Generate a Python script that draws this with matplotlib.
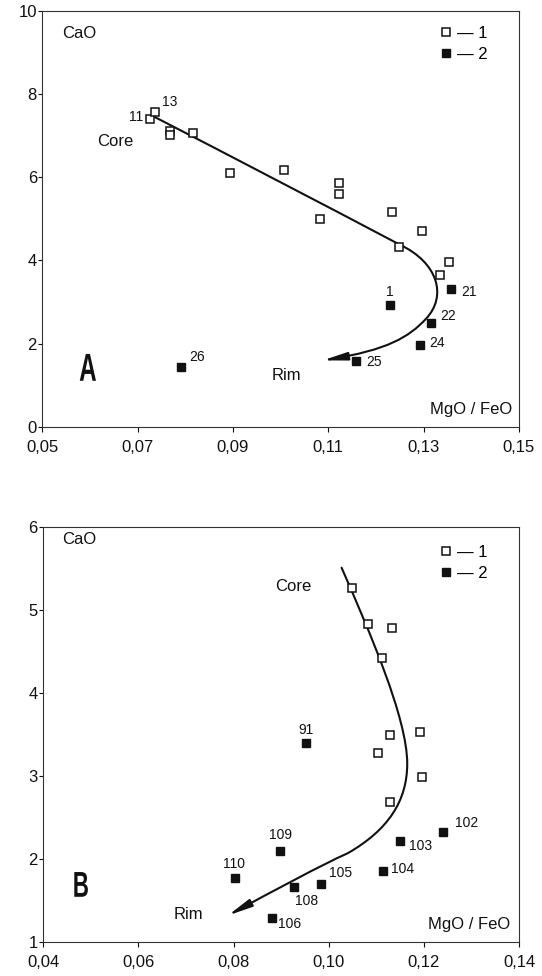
import matplotlib
matplotlib.use("Agg")
import matplotlib.pyplot as plt
import matplotlib.transforms as mtransforms
from matplotlib.lines import Line2D
from matplotlib.path import Path
from matplotlib.patches import FancyArrowPatch, PathPatch
from matplotlib.textpath import TextPath
from matplotlib.font_manager import FontProperties

plt.rcParams['font.family'] = ['Liberation Sans', 'DejaVu Sans']

# ---- panel A data (MgO/FeO vs CaO) ----
a_open_x = [0.0725, 0.0737, 0.0767, 0.0767, 0.0816, 0.0893, 0.1006, 0.1123,
            0.1123, 0.1082, 0.1233, 0.1296, 0.1249, 0.1353, 0.1335]
a_open_y = [7.40, 7.56, 7.12, 7.02, 7.07, 6.11, 6.18, 5.87,
            5.60, 4.99, 5.16, 4.70, 4.33, 3.97, 3.64]
a_open_lab = {0: "11", 1: "13"}

a_fill_x = [0.1230, 0.1358, 0.1316, 0.1293, 0.1159, 0.0790]
a_fill_y = [2.93, 3.31, 2.51, 1.97, 1.59, 1.43]
a_fill_lab = ["1", "21", "22", "24", "25", "26"]

# trend curve A (core -> rim), bezier control points
a_curve = [(0.0735, 7.45), (0.099, 5.95), (0.125, 4.38),
           (0.1330, 3.95), (0.1350, 3.15), (0.1305, 2.60),
           (0.1269, 2.16), (0.1225, 1.85), (0.1088, 1.60)]
a_codes = [Path.MOVETO, Path.CURVE3, Path.CURVE3,
           Path.CURVE4, Path.CURVE4, Path.CURVE4,
           Path.CURVE4, Path.CURVE4, Path.CURVE4]

# ---- panel B data ----
b_open_x = [0.1048, 0.1083, 0.1133, 0.1112, 0.1129, 0.1191, 0.1104, 0.1196, 0.1129]
b_open_y = [5.27, 4.83, 4.78, 4.42, 3.49, 3.53, 3.28, 2.99, 2.69]

b_fill_x = [0.0952, 0.1241, 0.1150, 0.1115, 0.0984, 0.0928, 0.0898, 0.0804, 0.0880]
b_fill_y = [3.40, 2.33, 2.22, 1.85, 1.70, 1.66, 2.10, 1.77, 1.29]
b_fill_lab = ["91", "102", "103", "104", "105", "108", "109", "110", "106"]

b_curve = [(0.1027, 5.51), (0.1085, 4.75), (0.1165, 3.70), (0.1165, 3.15),
           (0.1165, 2.70), (0.1125, 2.35), (0.1040, 2.07),
           (0.0985, 1.93), (0.0885, 1.62), (0.0788, 1.32)]
b_codes = [Path.MOVETO] + [Path.CURVE4] * 9

# label offsets (points) for the numbered samples
a_off = {"11": (-4.5, 1.5, "right"), "13": (5, 7.7, "left"),
         "1": (0, 9.6, "center"), "21": (7, -2, "left"), "22": (6.5, 4.8, "left"),
         "24": (6.7, 1.2, "left"), "25": (7.2, -1.2, "left"), "26": (6.5, 7.2, "left")}
b_off = {"91": (0, 9.1, "center"), "102": (8.4, 6.5, "left"), "103": (6.5, -3.8, "left"),
         "104": (5.3, 2, "left"), "105": (5.8, 7.9, "left"), "108": (8.6, -9.6, "center"),
         "109": (0.5, 11, "center"), "110": (-1, 9.9, "center"), "106": (4.5, -4.1, "left")}

ink = "#111111"

fig = plt.figure(figsize=(5.42, 9.76), dpi=100)
axA = fig.add_axes([0.0784, 0.5625, 0.879, 0.4265])
axB = fig.add_axes([0.0799, 0.0348, 0.8777, 0.4252])


def style(ax, xlim, ylim, xticks, yticks):
    ax.set_xlim(*xlim)
    ax.set_ylim(*ylim)
    ax.set_xticks(xticks)
    ax.set_xticklabels([f"{t:.2f}".replace(".", ",") for t in xticks])
    ax.set_yticks(yticks)
    ax.set_yticklabels([str(t) for t in yticks])
    for s in ax.spines.values():
        s.set_linewidth(0.8)
        s.set_color("#333333")
    ax.tick_params(axis="x", direction="out", length=3.6, width=0.8, pad=6,
                   labelsize=12, colors=ink)
    ax.tick_params(axis="y", direction="out", length=3.2, width=0.8, pad=0.8,
                   labelsize=12, colors=ink)


def draw_curve(ax, verts, codes):
    arr = FancyArrowPatch(path=Path(verts, codes),
                          arrowstyle="-|>,head_length=1.45,head_width=0.24",
                          mutation_scale=10, lw=1.5, color=ink,
                          transform=ax.transData)
    ax.add_patch(arr)


def legend(ax, anchor):
    h = [Line2D([], [], ls="none", marker="s", ms=5.2, mfc="white", mec=ink, mew=1.1),
         Line2D([], [], ls="none", marker="s", ms=5.8, mfc=ink, mec=ink)]
    ax.legend(h, ["\u2014 1", "\u2014 2"], loc="upper right", bbox_to_anchor=anchor,
              frameon=False, fontsize=12, handlelength=0.6, handletextpad=0.4,
              borderpad=0, borderaxespad=0, labelspacing=0.35)


def panel_letter(ax, letter, x, y, em):
    # narrow bold letter: squeeze a bold glyph horizontally
    tp = TextPath((0, 0), letter, size=em, prop=FontProperties(family="Liberation Sans", weight="bold"))
    tr = mtransforms.Affine2D().scale(0.62, 1.0) + mtransforms.ScaledTranslation(x, y, ax.transAxes)
    ax.add_patch(PathPatch(tp, transform=tr, fc=ink, ec="none"))


# ---- panel A ----
style(axA, (0.05, 0.15), (0, 10), [0.05, 0.07, 0.09, 0.11, 0.13, 0.15], [0, 2, 4, 6, 8, 10])
draw_curve(axA, a_curve, a_codes)
axA.plot(a_open_x, a_open_y, ls="none", marker="s", ms=5.2, mfc="white", mec=ink, mew=1.1, zorder=3)
axA.plot(a_fill_x, a_fill_y, ls="none", marker="s", ms=5.8, mfc=ink, mec=ink, zorder=3)
for i, lab in a_open_lab.items():
    dx, dy, ha = a_off[lab]
    axA.annotate(lab, (a_open_x[i], a_open_y[i]), xytext=(dx, dy), textcoords="offset points",
                 ha=ha, va="center", fontsize=10, color=ink)
for x, y, lab in zip(a_fill_x, a_fill_y, a_fill_lab):
    dx, dy, ha = a_off[lab]
    axA.annotate(lab, (x, y), xytext=(dx, dy), textcoords="offset points",
                 ha=ha, va="center", fontsize=10, color=ink)
axA.text(0.041, 0.946, "CaO", transform=axA.transAxes, fontsize=12, va="center", color=ink)
axA.text(0.987, 0.041, "MgO / FeO", transform=axA.transAxes, fontsize=12, ha="right",
         va="center", color=ink)
panel_letter(axA, "A", 0.077, 0.111, 39)
axA.text(0.0614, 6.85, "Core", fontsize=12, va="center", color=ink)
axA.text(0.0981, 1.23, "Rim", fontsize=12, va="center", color=ink)
legend(axA, (0.935, 0.963))

# ---- panel B ----
style(axB, (0.04, 0.14), (1, 6), [0.04, 0.06, 0.08, 0.10, 0.12, 0.14], [1, 2, 3, 4, 5, 6])
draw_curve(axB, b_curve, b_codes)
axB.plot(b_open_x, b_open_y, ls="none", marker="s", ms=5.2, mfc="white", mec=ink, mew=1.1, zorder=3)
axB.plot(b_fill_x, b_fill_y, ls="none", marker="s", ms=5.8, mfc=ink, mec=ink, zorder=3)
for x, y, lab in zip(b_fill_x, b_fill_y, b_fill_lab):
    dx, dy, ha = b_off[lab]
    axB.annotate(lab, (x, y), xytext=(dx, dy), textcoords="offset points",
                 ha=ha, va="center", fontsize=10, color=ink)
axB.text(0.039, 0.969, "CaO", transform=axB.transAxes, fontsize=12, va="center", color=ink)
axB.text(0.981, 0.043, "MgO / FeO", transform=axB.transAxes, fontsize=12, ha="right",
         va="center", color=ink)
panel_letter(axB, "B", 0.062, 0.109, 36)
axB.text(0.0887, 5.28, "Core", fontsize=12, va="center", color=ink)
axB.text(0.0673, 1.33, "Rim", fontsize=12, va="center", color=ink)
legend(axB, (0.935, 0.957))

fig.savefig("out.png", dpi=100)
